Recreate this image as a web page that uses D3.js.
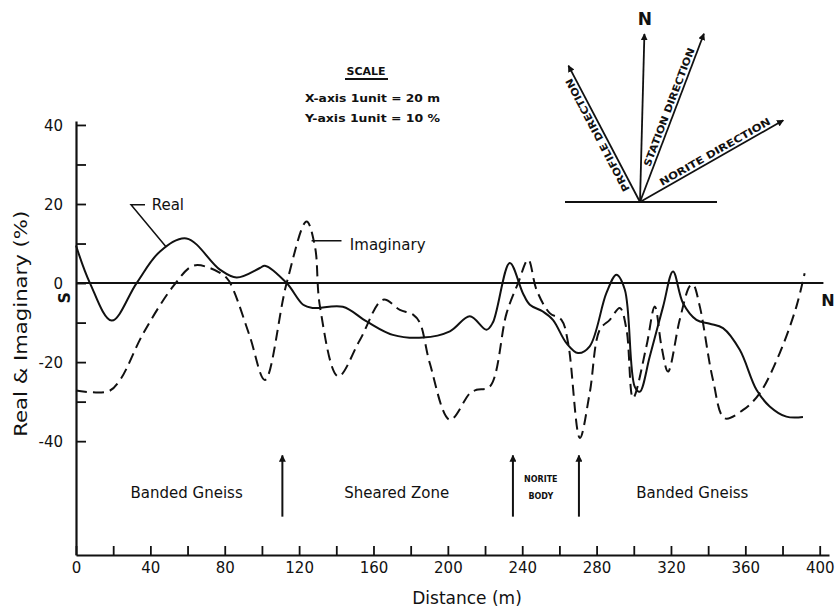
<!DOCTYPE html>
<html>
<head>
<meta charset="utf-8">
<script src="https://cdn.jsdelivr.net/npm/d3@7"></script>
<style>
  body { margin: 0; background: #fff; }
  text { font-family: "DejaVu Sans", sans-serif; fill: #111; }
</style>
</head>
<body>
<div id="chart"></div>
<script>
// Real curve (distance m, %)
const realX = [0, 7.5, 19.2, 32.6, 45.2, 59.4, 77.4, 86.4, 98.9, 101.6, 113.3, 122.2, 127.4, 143.5, 156.3, 170.4, 186.6, 201.1, 211.8, 220.8, 224.2, 233.3, 240.3, 244.1, 251.1, 256.5, 263.8, 270, 276.3, 285.3, 290.7, 295.2, 300.5, 303.2, 308.6, 315.8, 321.1, 326.5, 333.7, 340.9, 348, 357, 366, 373.1, 382.1, 391];
const realY = [9.5, 0, -9.5, 0, 8, 11.3, 3.4, 1.4, 3.8, 4.4, 0, -5.5, -6.3, -6, -9.7, -13.1, -13.8, -12.2, -8.4, -11.8, -10, 5.1, -2.5, -5.5, -7.2, -9.3, -15.2, -17.7, -16, -2.5, 2.1, -1.7, -26.2, -27.5, -18.6, -5.9, 2.9, -5.1, -9.3, -10.3, -11.4, -16.9, -27, -31.2, -33.8, -33.9];

// Imaginary curve
const imagX = [0, 17.4, 23.7, 36.2, 52.3, 63.1, 72, 81, 84.6, 93.5, 101.6, 113.3, 124, 128.5, 131.2, 141, 152.7, 165.2, 174.2, 181.3, 185, 190.3, 201.1, 211.8, 215.4, 222.6, 231.6, 237.8, 243.2, 247.7, 254.8, 261.1, 264.7, 271, 276.3, 281.7, 287.1, 292.5, 296.1, 299.6, 306.8, 311.3, 314.9, 318.4, 324.7, 330.1, 331.9, 335.5, 342.6, 348.9, 358.8, 367.7, 378.5, 387.5, 391.9];
const imagY = [-27.2, -27.4, -24.5, -12.7, -0.8, 4.4, 3.8, 1.3, -1.7, -13.5, -24.5, 0, 15.6, 9.3, -5.9, -23.6, -14.4, -4.2, -6.8, -8, -10.1, -20.3, -34.6, -27.9, -27, -26.2, -7.6, 0, 5.9, -1.7, -7.6, -9.3, -15.2, -39.2, -27.8, -11.8, -9.3, -6.3, -11.8, -29.1, -16, -5.9, -16, -22.4, -9.3, -0.8, -0.4, -5.9, -24.5, -34.2, -32.1, -27.9, -17.7, -5.9, 2.5];

// axis ticks
const xTicks = [0, 20, 40, 60, 80, 100, 120, 140, 160, 180, 200, 220, 240, 260, 280, 300, 320, 340, 360, 380, 400];
const xTickLabels = [0, 40, 80, 120, 160, 200, 240, 280, 320, 360, 400];
const yTicks = [-40, -30, -20, -10, 0, 10, 20, 30, 40];
const yTickLabels = [-40, -20, 0, 20, 40];

// geology along the profile
const zoneNames = ["Banded Gneiss", "Sheared Zone", "Banded Gneiss"];
const zoneCentres = [59.5, 172.5, 331.5];
const contacts = [111, 235, 270.5];
const noriteLines = ["NORITE", "BODY"];

// compass rose
const compassNames = ["N", "STATION DIRECTION", "PROFILE DIRECTION", "NORITE DIRECTION"];
const compassBearings = [1.5, 20.8, -27.7, 60.3];
const compassLengths = [168, 180, 154, 165];

const width = 835, height = 612;

const svg = d3.select("#chart").append("svg")
    .attr("width", width)
    .attr("height", height);

svg.append("rect").attr("width", width).attr("height", height).attr("fill", "#fff");

const x = d3.scaleLinear().domain([0, 405]).range([76, 829]);
const y = d3.scaleLinear().domain([-68.8, 41]).range([555, 121]);

// axes, ticks pointing inwards
const xAxis = svg.append("g")
    .attr("transform", `translate(0,${y.range()[0]})`)
    .call(d3.axisBottom(x)
        .tickValues(xTicks)
        .tickSizeInner(-9)
        .tickSizeOuter(0)
        .tickPadding(7)
        .tickFormat(d => xTickLabels.includes(d) ? d : ""));

const yAxis = svg.append("g")
    .attr("transform", `translate(${x(0)},0)`)
    .call(d3.axisLeft(y)
        .tickValues(yTicks)
        .tickSizeInner(-10)
        .tickSizeOuter(0)
        .tickPadding(13)
        .tickFormat(d => yTickLabels.includes(d) ? d : ""));

[xAxis, yAxis].forEach(g => {
    g.select(".domain").attr("stroke", "#111").attr("stroke-width", 2.2);
    g.selectAll(".tick line").attr("stroke", "#111").attr("stroke-width", 1.8);
    g.selectAll(".tick text")
        .style("font-family", "'DejaVu Sans', sans-serif")
        .style("font-size", "15px")
        .attr("fill", "#111");
});
yAxis.selectAll(".tick text").attr("dy", "0.36em");

// zero line
svg.append("line")
    .attr("x1", x(0)).attr("x2", x(402))
    .attr("y1", y(0)).attr("y2", y(0))
    .attr("stroke", "#111").attr("stroke-width", 2);

const line = d3.line()
    .x(d => x(d[0]))
    .y(d => y(d[1]))
    .curve(d3.curveCatmullRom.alpha(0.5));

svg.append("path")
    .datum(realX.map((v, i) => [v, realY[i]]))
    .attr("fill", "none")
    .attr("stroke", "#111")
    .attr("stroke-width", 2)
    .attr("d", line);

svg.append("path")
    .datum(imagX.map((v, i) => [v, imagY[i]]))
    .attr("fill", "none")
    .attr("stroke", "#111")
    .attr("stroke-width", 2)
    .attr("stroke-dasharray", "11,6")
    .attr("d", line);

// curve labels with leader lines
svg.append("path")
    .attr("d", d3.line()([[x(37.1), y(19.8)], [x(29.6), y(19.8)], [x(48.4), y(9.2)]]))
    .attr("fill", "none").attr("stroke", "#111").attr("stroke-width", 1.5);
svg.append("text")
    .attr("x", x(40.7)).attr("y", y(19.8)).attr("dy", "0.36em")
    .style("font-size", "15px")
    .text("Real");

svg.append("line")
    .attr("x1", x(126.7)).attr("x2", x(142.8))
    .attr("y1", y(10.7)).attr("y2", y(10.7))
    .attr("stroke", "#111").attr("stroke-width", 1.5);
svg.append("text")
    .attr("x", x(147.3)).attr("y", y(9.8)).attr("dy", "0.36em")
    .style("font-size", "15px")
    .text("Imaginary");

// S / N ends of the profile
svg.append("text")
    .attr("transform", `translate(${x(0) - 12},${y(-3.7)}) rotate(-90)`)
    .attr("text-anchor", "middle").attr("dy", "0.36em")
    .style("font-size", "16px").style("font-weight", "bold")
    .text("S");
svg.append("text")
    .attr("x", 828).attr("y", y(-4.3)).attr("dy", "0.36em")
    .attr("text-anchor", "middle")
    .style("font-size", "16px").style("font-weight", "bold")
    .text("N");

// axis titles
svg.append("text")
    .attr("x", 467).attr("y", 604)
    .attr("text-anchor", "middle")
    .style("font-size", "17px")
    .text("Distance (m)");
svg.append("text")
    .attr("transform", `translate(27,${y(-10.3)}) rotate(-90)`)
    .attr("text-anchor", "middle")
    .attr("textLength", 226).attr("lengthAdjust", "spacingAndGlyphs")
    .style("font-size", "17px")
    .text("Real & Imaginary (%)");

// geological zones and contacts
const defs = svg.append("defs");
defs.append("marker")
    .attr("id", "head")
    .attr("viewBox", "0 0 10 10")
    .attr("refX", 9).attr("refY", 5)
    .attr("markerWidth", 7).attr("markerHeight", 7)
    .attr("markerUnits", "userSpaceOnUse")
    .attr("orient", "auto")
    .append("path").attr("d", "M0,0L10,5L0,10Z").attr("fill", "#111");

svg.selectAll(".contact")
    .data(contacts)
    .join("line")
    .attr("class", "contact")
    .attr("x1", d => x(d)).attr("x2", d => x(d))
    .attr("y1", y(-59.1)).attr("y2", y(-43.6))
    .attr("stroke", "#111").attr("stroke-width", 2)
    .attr("marker-end", "url(#head)");

svg.selectAll(".zone")
    .data(zoneNames)
    .join("text")
    .attr("class", "zone")
    .attr("x", (d, i) => x(zoneCentres[i]))
    .attr("y", y(-53))
    .attr("dy", "0.36em")
    .attr("text-anchor", "middle")
    .style("font-size", "15px")
    .text(d => d);

svg.selectAll(".norite")
    .data(noriteLines)
    .join("text")
    .attr("class", "norite")
    .attr("x", x(250))
    .attr("y", (d, i) => y(-49.6) + i * 17)
    .attr("dy", "0.36em")
    .attr("text-anchor", "middle")
    .style("font-size", "8px").style("font-weight", "bold")
    .text(d => d);

// scale note
svg.append("text")
    .attr("x", 366).attr("y", 75)
    .attr("text-anchor", "middle")
    .style("font-size", "11px").style("font-weight", "bold")
    .text("SCALE");
svg.append("line").attr("x1", 345).attr("x2", 388).attr("y1", 79).attr("y2", 79)
    .attr("stroke", "#111").attr("stroke-width", 2);
svg.selectAll(".scaleNote")
    .data(["X-axis 1unit = 20 m", "Y-axis 1unit = 10 %"])
    .join("text")
    .attr("class", "scaleNote")
    .attr("x", 305)
    .attr("y", (d, i) => 102 + i * 20)
    .attr("textLength", 135).attr("lengthAdjust", "spacingAndGlyphs")
    .style("font-size", "11px").style("font-weight", "bold")
    .text(d => d);

// compass rose
const ox = 640, oy = 202;
const compass = svg.append("g");
compass.append("line")
    .attr("x1", ox - 75).attr("x2", ox + 77)
    .attr("y1", oy).attr("y2", oy)
    .attr("stroke", "#111").attr("stroke-width", 2);

compassNames.forEach((name, i) => {
    const a = compassBearings[i] * Math.PI / 180;
    const L = compassLengths[i];
    const dx = Math.sin(a), dy = -Math.cos(a);
    compass.append("line")
        .attr("x1", ox).attr("y1", oy)
        .attr("x2", ox + dx * L).attr("y2", oy + dy * L)
        .attr("stroke", "#111").attr("stroke-width", 1.8)
        .attr("marker-end", "url(#head)");
    if (name === "N") {
        compass.append("text")
            .attr("x", ox + dx * (L + 15)).attr("y", oy + dy * (L + 15))
            .attr("text-anchor", "middle").attr("dy", "0.36em")
            .style("font-size", "17px").style("font-weight", "bold")
            .text(name);
    } else {
        const start = name.startsWith("PROFILE") ? 16 : name.startsWith("STATION") ? 36 : 27;
        const ang = Math.atan2(dy, dx) * 180 / Math.PI;
        compass.append("text")
            .attr("transform", `translate(${ox + dx * start},${oy + dy * start}) rotate(${ang})`)
            .attr("dy", -3)
            .attr("textLength", 126).attr("lengthAdjust", "spacingAndGlyphs")
            .style("font-size", "10px").style("font-weight", "bold")
            .text(name);
    }
});
</script>
</body>
</html>
